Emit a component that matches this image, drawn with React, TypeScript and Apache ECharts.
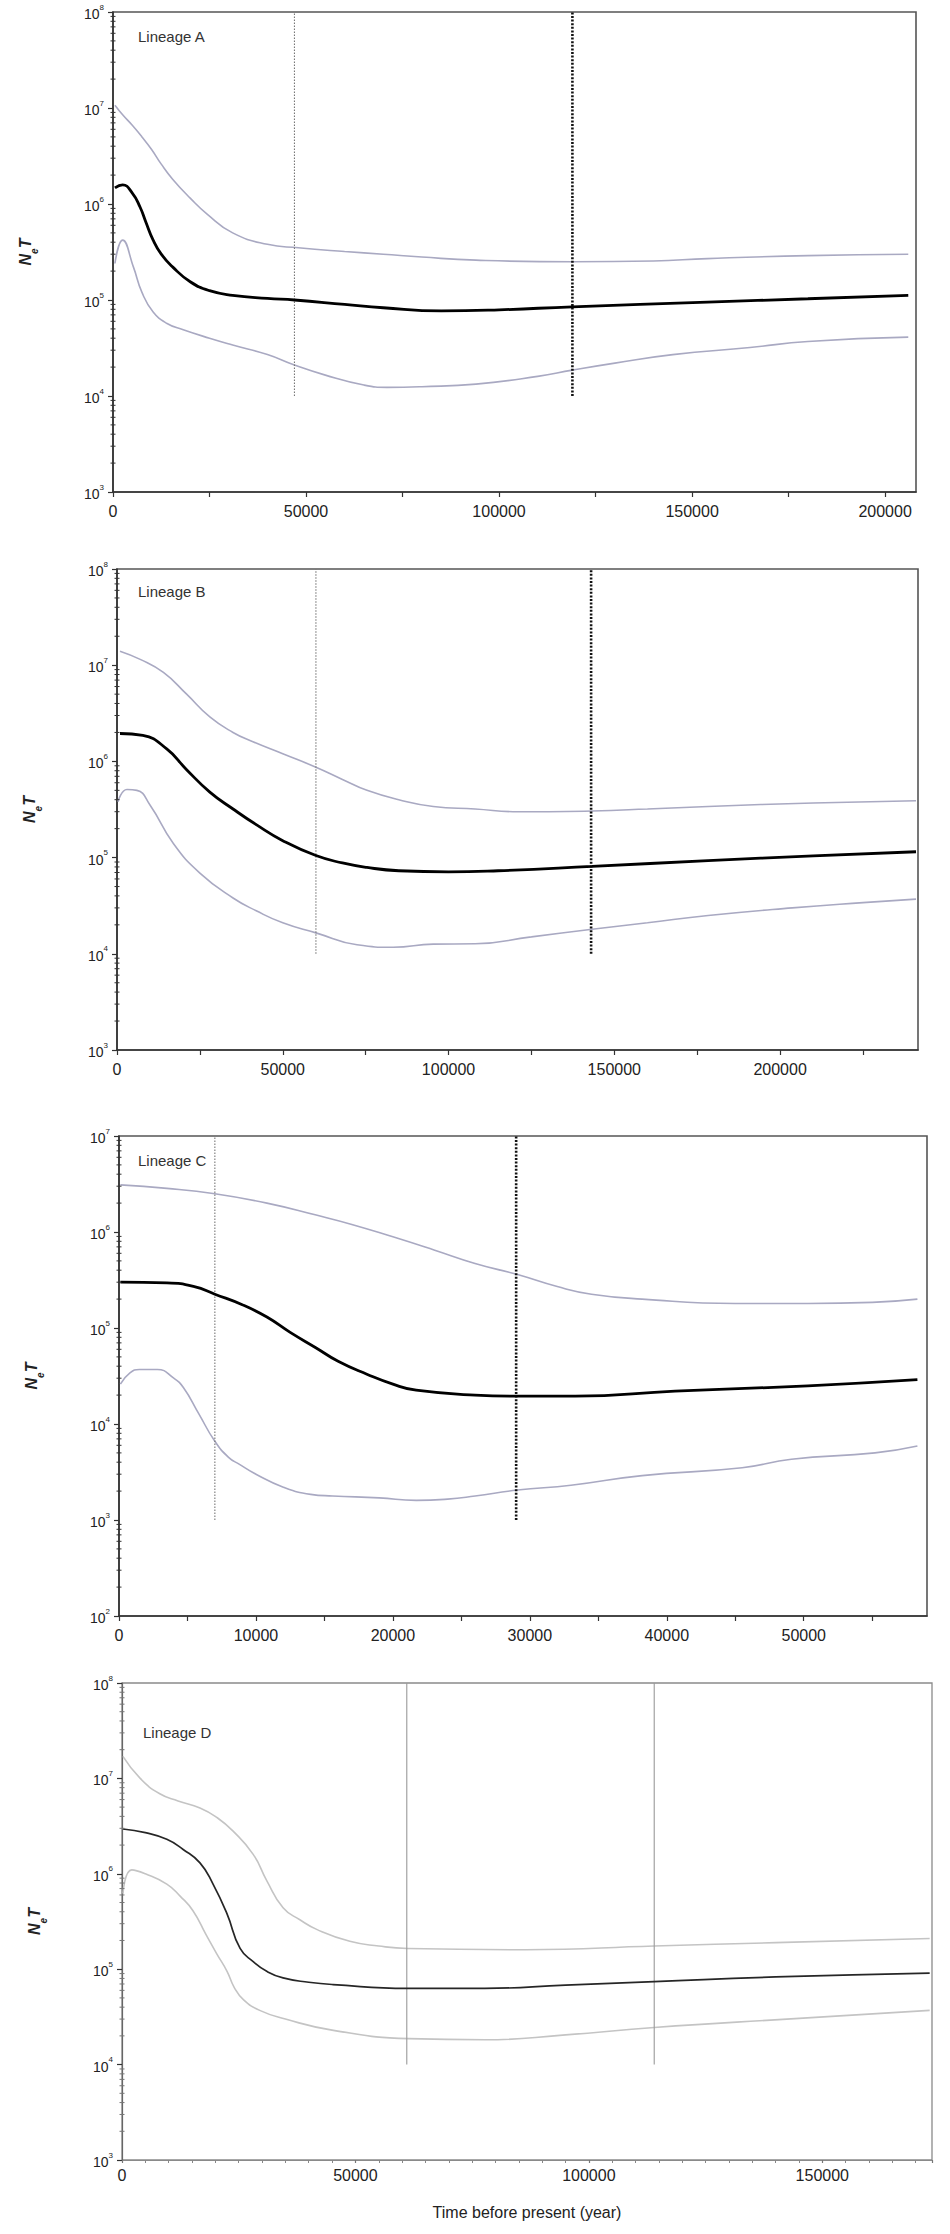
import React, { useEffect, useRef } from "react";
import * as echarts from "echarts";

const FONT = '"Liberation Sans", Arial, Helvetica, sans-serif';

// ---------- panel meta ----------
const lineageNames = ["Lineage A", "Lineage B", "Lineage C", "Lineage D"];
const xMaxes = [208000, 241600, 59000, 173500];
const yMins = [1e3, 1e3, 1e2, 1e3];
const yMaxes = [1e8, 1e8, 1e7, 1e8];
const xTickSteps = [25000, 25000, 5000, 50000];
const xLabelSteps = [50000, 50000, 10000, 50000];
const xAxisTitle = "Time before present (year)";

// ---------- Lineage A ----------
const aUpper = [
  [500, 1.07e7], [2500, 8.5e6], [5000, 6.6e6], [7500, 5.0e6], [10000, 3.7e6], [12500, 2.6e6],
  [15500, 1.8e6], [20000, 1.15e6], [24300, 7.9e5], [31000, 5.0e5], [40000, 3.8e5], [48000, 3.5e5],
  [60000, 3.2e5], [70000, 3.0e5], [80000, 2.8e5], [94000, 2.6e5], [119000, 2.5e5], [140000, 2.55e5],
  [154000, 2.7e5], [180000, 2.9e5], [206000, 3.0e5],
];
const aMedian = [
  [500, 1.47e6], [2500, 1.58e6], [5000, 1.3e6], [7000, 9.3e5], [8500, 6.5e5], [10400, 4.2e5],
  [12500, 3.0e5], [15500, 2.2e5], [20000, 1.55e5], [25000, 1.25e5], [31000, 1.12e5], [40000, 1.04e5],
  [47000, 1.0e5], [60000, 9.0e4], [70000, 8.3e4], [85000, 7.7e4], [100000, 7.9e4], [119000, 8.5e4],
  [154000, 9.5e4], [180000, 1.03e5], [206000, 1.12e5],
];
const aLower = [
  [500, 2.4e5], [2500, 4.2e5], [5300, 2.2e5], [7500, 1.2e5], [10400, 7.5e4], [14000, 5.7e4],
  [18200, 4.9e4], [25000, 4.0e4], [31000, 3.4e4], [40000, 2.7e4], [47000, 2.1e4], [55000, 1.65e4],
  [65000, 1.3e4], [71000, 1.23e4], [80000, 1.25e4], [94000, 1.33e4], [110000, 1.6e4], [119000, 1.86e4],
  [130000, 2.2e4], [145000, 2.7e4], [165000, 3.2e4], [180000, 3.7e4], [206000, 4.1e4],
];
const aEvents = [47000, 119000];

// ---------- Lineage B ----------
const bUpper = [
  [900, 1.4e7], [7000, 1.15e7], [14000, 8.4e6], [21000, 5.0e6], [28000, 2.9e6], [35000, 2.0e6],
  [41000, 1.6e6], [50000, 1.2e6], [60000, 8.7e5], [68000, 6.5e5], [75400, 5.0e5], [85000, 4.0e5],
  [95400, 3.4e5], [108000, 3.2e5], [121000, 3.0e5], [130000, 3.0e5], [143300, 3.05e5],
  [160000, 3.2e5], [178300, 3.4e5], [210000, 3.7e5], [241000, 3.9e5],
];
const bMedian = [
  [900, 1.95e6], [7800, 1.86e6], [15000, 1.35e6], [21000, 8.2e5], [28000, 4.8e5],
  [35000, 3.2e5], [42000, 2.2e5], [50000, 1.5e5], [60000, 1.05e5], [68000, 8.8e4], [75400, 7.9e4],
  [85000, 7.3e4], [100000, 7.1e4], [115000, 7.3e4], [143300, 8.1e4], [178300, 9.3e4],
  [210000, 1.04e5], [241000, 1.15e5],
];
const bLower = [
  [300, 3.8e5], [3000, 5.1e5], [6000, 5.0e5], [10000, 3.5e5], [17000, 1.4e5], [25000, 6.9e4],
  [35000, 3.8e4], [42000, 2.8e4], [50000, 2.1e4], [60000, 1.65e4], [72400, 1.24e4], [83300, 1.17e4],
  [95400, 1.26e4], [108000, 1.27e4], [125000, 1.5e4], [143300, 1.8e4], [160000, 2.1e4],
  [178300, 2.5e4], [203700, 3.0e4], [225000, 3.4e4], [241000, 3.7e4],
];
const bEvents = [60000, 143000];

// ---------- Lineage C ----------
const cUpper = [
  [100, 3.1e6], [3500, 2.85e6], [7000, 2.5e6], [10800, 2.0e6], [14400, 1.5e6], [17000, 1.2e6],
  [20000, 8.9e5], [23000, 6.5e5], [26000, 4.7e5], [29100, 3.6e5], [32000, 2.7e5], [34500, 2.25e5],
  [38200, 2.0e5], [45000, 1.8e5], [50300, 1.8e5], [55000, 1.85e5], [58300, 2.0e5],
];
const cMedian = [
  [100, 3.0e5], [3500, 2.95e5], [5500, 2.7e5], [7000, 2.25e5], [9000, 1.75e5], [10800, 1.3e5],
  [12500, 9.0e4], [14400, 6.2e4], [16000, 4.5e4], [18100, 3.3e4], [20000, 2.6e4], [21700, 2.25e4],
  [26000, 2.0e4], [29100, 1.95e4], [33300, 1.95e4], [40600, 2.2e4], [50300, 2.5e4], [58300, 2.9e4],
];
const cLower = [
  [100, 2.6e4], [800, 3.4e4], [1500, 3.7e4], [2800, 3.7e4], [4000, 3.0e4], [4700, 2.4e4],
  [5800, 1.3e4], [7000, 6.6e3], [8000, 4.5e3], [8800, 3.8e3], [10000, 3.0e3], [12000, 2.2e3],
  [14000, 1.85e3], [15600, 1.78e3], [19000, 1.7e3], [21700, 1.6e3], [24000, 1.65e3], [26000, 1.78e3],
  [29100, 2.05e3], [33000, 2.3e3], [38200, 2.9e3], [45500, 3.5e3], [49100, 4.3e3], [55200, 5.0e3],
  [58300, 5.9e3],
];
const cEvents = [7000, 29000];

// ---------- Lineage D ----------
const dUpper = [
  [200, 1.7e7], [3900, 1.0e7], [8100, 6.9e6], [12000, 5.8e6], [16700, 4.9e6], [20300, 3.9e6],
  [23800, 2.8e6], [28100, 1.6e6], [31000, 8.5e5], [34500, 4.4e5], [38100, 3.3e5], [41800, 2.6e5],
  [48800, 1.96e5], [55000, 1.75e5], [61200, 1.65e5], [86500, 1.6e5], [114000, 1.75e5],
  [140000, 1.9e5], [173000, 2.1e5],
];
const dMedian = [
  [200, 2.95e6], [5000, 2.7e6], [9600, 2.3e6], [13100, 1.8e6], [16700, 1.3e6], [19500, 7.8e5],
  [22500, 3.8e5], [25300, 1.65e5], [28100, 1.2e5], [31000, 9.5e4], [34500, 8.1e4], [40000, 7.3e4],
  [45200, 6.9e4], [61200, 6.3e4], [77700, 6.3e4], [95000, 6.8e4], [114000, 7.4e4], [140000, 8.3e4],
  [173000, 9.1e4],
];
const dLower = [
  [200, 6.2e5], [2100, 1.1e6], [5000, 1.0e6], [9600, 7.8e5], [12500, 5.8e5], [15200, 4.1e5],
  [18000, 2.3e5], [20300, 1.45e5], [22500, 9.5e4], [24000, 6.5e4], [26000, 4.8e4], [29500, 3.7e4],
  [35000, 3.0e4], [45000, 2.3e4], [61400, 1.87e4], [77700, 1.82e4], [95000, 2.05e4],
  [114000, 2.45e4], [142400, 3.0e4], [173000, 3.7e4],
];
const dEvents = [61000, 114000];

const uppers = [aUpper, bUpper, cUpper, dUpper];
const medians = [aMedian, bMedian, cMedian, dMedian];
const lowers = [aLower, bLower, cLower, dLower];
const events = [aEvents, bEvents, cEvents, dEvents];
const eventFloors = [1e4, 1e4, 1e3, 1e4];

// ---------- layout (pixels) ----------
const grids = [
  { left: 113, top: 12, width: 803, height: 480 },
  { left: 117, top: 569, width: 801, height: 481 },
  { left: 119, top: 1136, width: 808, height: 480 },
  { left: 122, top: 1683, width: 810, height: 477 },
];
const titlePos = [
  { left: 138, top: 29 },
  { left: 138, top: 584 },
  { left: 138, top: 1153 },
  { left: 143, top: 1725 },
];

function minorTicks(min: number, max: number) {
  const out: number[][] = [];
  const e0 = Math.round(Math.log10(min));
  const e1 = Math.round(Math.log10(max));
  for (let e = e0; e < e1; e++) {
    for (let m = 2; m <= 9; m++) out.push([0, m * Math.pow(10, e)]);
  }
  return out;
}

function buildOption() {
  const isD = (i: number) => i === 3;
  const xAxis = grids.map((_, i) => ({
    type: "value",
    gridIndex: i,
    min: 0,
    max: xMaxes[i],
    interval: xTickSteps[i],
    splitLine: { show: false },
    axisLine: { show: true, onZero: false, lineStyle: { color: isD(i) ? "#8a8a8a" : "#333", width: isD(i) ? 1.2 : 1.6 } },
    axisTick: { show: true, inside: false, length: isD(i) ? 3 : 5, lineStyle: { color: isD(i) ? "#777" : "#333", width: 1.2 } },
    minorTick: isD(i) ? { show: true, splitNumber: 10, length: 3, lineStyle: { color: "#888", width: 1 } } : { show: false },
    axisLabel: {
      show: true,
      margin: isD(i) ? 7 : 11,
      fontSize: 16,
      fontFamily: FONT,
      color: "#222",
      showMaxLabel: false,
      formatter: (v: number) => (Math.abs(v % xLabelSteps[i]) < 1e-6 ? String(v) : ""),
    },
    name: isD(i) ? xAxisTitle : "",
    nameLocation: "middle",
    nameGap: 44,
    nameTextStyle: { fontSize: 16, fontFamily: FONT, color: "#222" },
  }));

  const yAxis = grids.map((_, i) => ({
    type: "log",
    logBase: 10,
    gridIndex: i,
    min: yMins[i],
    max: yMaxes[i],
    splitNumber: 5,
    splitLine: { show: false },
    axisLine: { show: true, onZero: false, lineStyle: { color: isD(i) ? "#666" : "#333", width: isD(i) ? 1.2 : 1.6 } },
    axisTick: { show: true, inside: false, length: 5, lineStyle: { color: "#333", width: 1.2 } },
    axisLabel: {
      margin: 9,
      formatter: (v: number) => `{b|10}{s|${Math.round(Math.log10(v))}}`,
      rich: {
        b: { fontSize: 14, fontFamily: FONT, color: "#222", lineHeight: 18, verticalAlign: "bottom" },
        s: { fontSize: 8, fontFamily: FONT, color: "#222", lineHeight: 9, verticalAlign: "top" },
      },
    },
    name: "{n|N}{e|e}{n|T}",
    nameLocation: "middle",
    nameGap: 74,
    nameRotate: 90,
    nameTextStyle: {
      rich: {
        n: { fontSize: 16, fontFamily: FONT, fontStyle: "italic", fontWeight: "bold", color: "#222", lineHeight: 22, verticalAlign: "top" },
        e: { fontSize: 10, fontFamily: FONT, fontStyle: "italic", fontWeight: "bold", color: "#222", lineHeight: 10, verticalAlign: "bottom" },
      },
    },
  }));

  const series: any[] = [];
  grids.forEach((_, i) => {
    const d = isD(i);
    const ciColor = d ? "#c4c4c4" : "#a9a9c2";
    // event (vertical) lines
    events[i].forEach((t, k) => {
      let lineStyle: any;
      if (d) lineStyle = { color: "#9a9a9a", width: 1.1, type: "solid" };
      else if (k === 0) lineStyle = { color: "#777", width: 1.1, type: [1.5, 1.5] };
      else lineStyle = { color: "#111", width: 2.6, type: [2, 1.6] };
      series.push({
        type: "line",
        xAxisIndex: i,
        yAxisIndex: i,
        data: [[t, eventFloors[i]], [t, yMaxes[i]]],
        showSymbol: false,
        symbol: "none",
        silent: true,
        lineStyle,
        z: 3,
      });
    });
    const curve = (data: number[][], color: string, width: number, z: number) => ({
      type: "line",
      xAxisIndex: i,
      yAxisIndex: i,
      data,
      showSymbol: false,
      symbol: "none",
      smooth: 0.5,
      silent: true,
      lineStyle: { color, width },
      z,
    });
    series.push(curve(uppers[i], ciColor, 1.6, 2));
    series.push(curve(lowers[i], ciColor, 1.6, 2));
    series.push(curve(medians[i], d ? "#262626" : "#000", d ? 1.7 : 2.8, 4));
    // log minor ticks on the y axis
    series.push({
      type: "custom",
      xAxisIndex: i,
      yAxisIndex: i,
      data: minorTicks(yMins[i], yMaxes[i]),
      silent: true,
      clip: false,
      z: 5,
      renderItem: (params: any, api: any) => {
        const p = api.coord([api.value(0), api.value(1)]);
        return {
          type: "line",
          shape: { x1: p[0] - 2.5, y1: p[1], x2: p[0] + 2.5, y2: p[1] },
          style: { stroke: d ? "#777" : "#333", lineWidth: 1 },
        };
      },
    });
  });

  return {
    animation: false,
    backgroundColor: "#fff",
    title: lineageNames.map((t, i) => ({
      text: t,
      left: titlePos[i].left,
      top: titlePos[i].top,
      padding: 0,
      textStyle: { fontSize: 15, fontWeight: "normal", fontFamily: FONT, color: "#333" },
    })),
    grid: grids.map((g, i) => ({
      ...g,
      show: true,
      borderColor: isD(i) ? "#8a8a8a" : "#555",
      borderWidth: isD(i) ? 1.3 : 1.6,
      backgroundColor: "transparent",
      containLabel: false,
    })),
    xAxis,
    yAxis,
    series,
  };
}

export default function App() {
  const ref = useRef<HTMLDivElement | null>(null);
  useEffect(() => {
    document.body.style.margin = "0";
    document.body.style.overflow = "hidden";
    if (!ref.current) return;
    const chart = echarts.init(ref.current, undefined, { renderer: "svg" });
    chart.setOption(buildOption() as any);
    return () => chart.dispose();
  }, []);
  return <div ref={ref} style={{ width: 950, height: 2234, background: "#fff" }} />;
}
